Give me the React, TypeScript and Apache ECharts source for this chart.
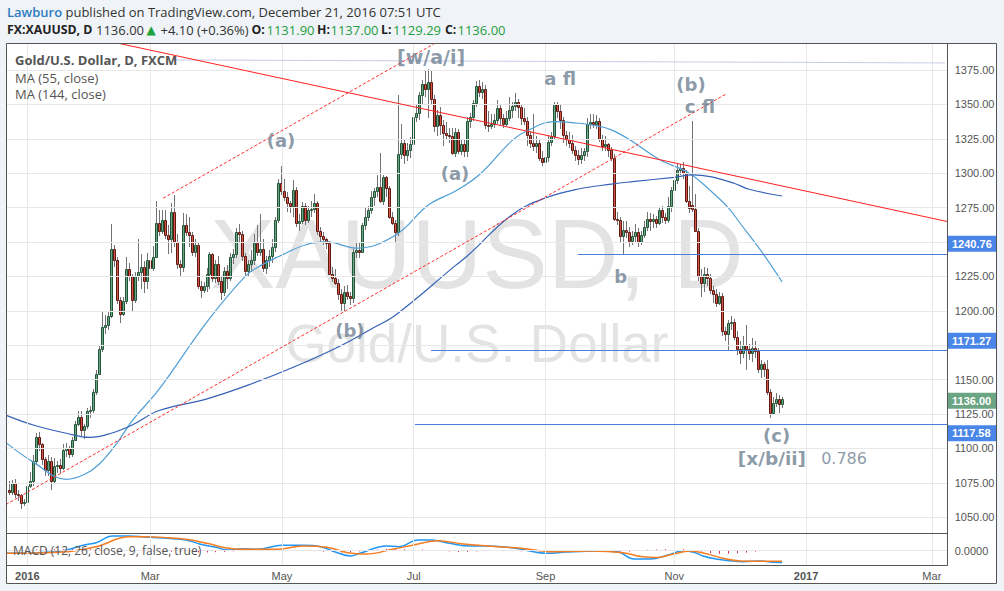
import React, { useEffect, useRef } from "react";
import * as echarts from "echarts";

// ---------------- data ----------------
// day index k: 0 = Mon Jan 4 2016, one step per weekday
const FIRST_K = -6;
// [open, high, low, close]
const dec15 = [
  [1070, 1076, 1066, 1068], [1068, 1077, 1066, 1075], [1075, 1078, 1064, 1067],
  [1067, 1070, 1062, 1066], [1066, 1067, 1056, 1060], [1060, 1063, 1058, 1061],
];
const jan16 = [
  [1061, 1082, 1060, 1073], [1073, 1083, 1071, 1076], [1076, 1095, 1073, 1091], [1091, 1111, 1088, 1108],
  [1108, 1112, 1098, 1103], [1103, 1104, 1088, 1092], [1092, 1094, 1080, 1084], [1084, 1095, 1080, 1091],
  [1091, 1094, 1070, 1076], [1076, 1093, 1074, 1087], [1087, 1091, 1082, 1088], [1088, 1092, 1082, 1086],
  [1086, 1103, 1084, 1099], [1099, 1104, 1094, 1100], [1100, 1102, 1093, 1096], [1096, 1108, 1094, 1106],
  [1106, 1120, 1105, 1118], [1118, 1127, 1116, 1123], [1123, 1127, 1109, 1113], [1113, 1118, 1107, 1116],
];
const feb16 = [
  [1116, 1129, 1114, 1127], [1127, 1131, 1122, 1128], [1128, 1143, 1126, 1141], [1141, 1157, 1139, 1154],
  [1154, 1175, 1153, 1172], [1172, 1200, 1170, 1188], [1188, 1197, 1183, 1190], [1190, 1200, 1186, 1196],
  [1196, 1263, 1195, 1245], [1245, 1248, 1232, 1237], [1237, 1239, 1205, 1208], [1208, 1210, 1191, 1198],
  [1198, 1210, 1196, 1207], [1207, 1239, 1205, 1230], [1230, 1235, 1222, 1225], [1225, 1227, 1199, 1208],
  [1208, 1228, 1206, 1225], [1225, 1252, 1222, 1228], [1228, 1241, 1216, 1232], [1232, 1236, 1213, 1222],
  [1222, 1242, 1216, 1237],
];
const mar16 = [
  [1237, 1241, 1224, 1231], [1231, 1247, 1229, 1239], [1239, 1280, 1238, 1264], [1264, 1273, 1254, 1258],
  [1258, 1273, 1256, 1266], [1266, 1273, 1252, 1255], [1255, 1262, 1241, 1252], [1252, 1278, 1242, 1272],
  [1272, 1284, 1246, 1250], [1250, 1256, 1230, 1234], [1234, 1237, 1225, 1232], [1232, 1271, 1228, 1262],
  [1262, 1270, 1254, 1257], [1257, 1268, 1246, 1255], [1255, 1257, 1240, 1243], [1243, 1252, 1239, 1248],
  [1248, 1250, 1216, 1218], [1218, 1222, 1209, 1215], [1215, 1221, 1213, 1218], [1218, 1231, 1214, 1227],
  [1227, 1243, 1216, 1241], [1241, 1242, 1221, 1224], [1224, 1237, 1220, 1234],
];
const apr16 = [
  [1234, 1240, 1219, 1222], [1222, 1225, 1208, 1214], [1214, 1232, 1211, 1229], [1229, 1233, 1216, 1224],
  [1224, 1242, 1222, 1239], [1239, 1245, 1234, 1241], [1241, 1260, 1238, 1257], [1257, 1263, 1250, 1256],
  [1256, 1258, 1236, 1240], [1240, 1242, 1225, 1229], [1229, 1237, 1225, 1234], [1234, 1244, 1228, 1237],
  [1237, 1256, 1233, 1249], [1249, 1262, 1240, 1243], [1243, 1270, 1240, 1245], [1245, 1252, 1228, 1231],
  [1231, 1240, 1227, 1237], [1237, 1244, 1232, 1240], [1240, 1252, 1235, 1246], [1246, 1268, 1243, 1266],
  [1266, 1296, 1264, 1293],
];
const may16 = [
  [1293, 1305, 1284, 1287], [1287, 1296, 1280, 1283], [1283, 1286, 1272, 1278], [1278, 1280, 1271, 1276],
  [1276, 1295, 1268, 1288], [1288, 1290, 1261, 1264], [1264, 1270, 1258, 1265], [1265, 1279, 1263, 1276],
  [1276, 1278, 1262, 1266], [1266, 1276, 1264, 1273], [1273, 1280, 1268, 1274], [1274, 1285, 1271, 1278],
  [1278, 1280, 1255, 1258], [1258, 1261, 1250, 1254], [1254, 1257, 1248, 1252], [1252, 1253, 1245, 1249],
  [1249, 1251, 1226, 1227], [1227, 1232, 1221, 1224], [1224, 1230, 1219, 1220], [1220, 1223, 1208, 1212],
  [1212, 1216, 1200, 1206], [1206, 1218, 1199, 1214],
];
const jun16 = [
  [1214, 1219, 1208, 1211], [1211, 1214, 1204, 1209], [1209, 1245, 1206, 1243], [1243, 1250, 1238, 1244],
  [1244, 1249, 1238, 1243], [1243, 1264, 1242, 1262], [1262, 1275, 1259, 1268], [1268, 1276, 1265, 1273],
  [1273, 1287, 1270, 1283], [1283, 1289, 1276, 1287], [1287, 1299, 1283, 1290], [1290, 1315, 1278, 1280],
  [1280, 1299, 1277, 1297], [1297, 1298, 1283, 1289], [1289, 1291, 1267, 1268], [1268, 1272, 1262, 1264],
  [1264, 1266, 1250, 1257], [1257, 1357, 1254, 1314], [1314, 1336, 1310, 1322], [1322, 1324, 1307, 1313],
  [1313, 1322, 1309, 1317], [1317, 1326, 1311, 1321],
];
const jul16 = [
  [1321, 1345, 1318, 1341], [1341, 1350, 1337, 1344], [1344, 1359, 1339, 1357], [1357, 1368, 1350, 1365],
  [1365, 1375, 1355, 1361], [1361, 1376, 1340, 1366], [1366, 1375, 1350, 1354], [1354, 1357, 1330, 1334],
  [1334, 1346, 1327, 1342], [1342, 1348, 1328, 1335], [1335, 1339, 1320, 1329], [1329, 1337, 1324, 1328],
  [1328, 1333, 1322, 1327], [1327, 1333, 1313, 1315], [1315, 1333, 1312, 1330], [1330, 1332, 1314, 1316],
  [1316, 1324, 1313, 1321], [1321, 1324, 1312, 1316], [1316, 1341, 1312, 1338], [1338, 1344, 1333, 1341],
  [1341, 1353, 1338, 1351],
];
const aug16 = [
  [1351, 1367, 1348, 1363], [1363, 1368, 1355, 1359], [1359, 1366, 1354, 1361], [1361, 1364, 1332, 1335],
  [1335, 1345, 1330, 1334], [1334, 1343, 1332, 1336], [1336, 1343, 1333, 1339], [1339, 1353, 1336, 1347],
  [1347, 1350, 1335, 1340], [1340, 1343, 1333, 1336], [1336, 1345, 1334, 1340], [1340, 1355, 1338, 1346],
  [1346, 1352, 1340, 1349], [1349, 1358, 1345, 1352], [1352, 1354, 1340, 1348], [1348, 1350, 1335, 1340],
  [1340, 1347, 1335, 1338], [1338, 1341, 1320, 1328], [1328, 1331, 1318, 1322], [1322, 1343, 1316, 1320],
  [1320, 1327, 1315, 1322], [1322, 1324, 1309, 1311], [1311, 1316, 1305, 1308],
];
const sep16 = [
  [1308, 1320, 1303, 1312], [1312, 1328, 1308, 1323], [1323, 1330, 1320, 1327], [1327, 1352, 1325, 1350],
  [1350, 1352, 1340, 1345], [1345, 1350, 1332, 1339], [1339, 1341, 1322, 1328], [1328, 1331, 1320, 1325],
  [1325, 1330, 1318, 1322], [1322, 1328, 1314, 1317], [1317, 1320, 1309, 1313], [1313, 1317, 1306, 1310],
  [1310, 1318, 1307, 1313], [1313, 1318, 1309, 1316], [1316, 1340, 1312, 1336], [1336, 1343, 1332, 1337],
  [1337, 1343, 1333, 1336], [1336, 1342, 1332, 1338], [1338, 1340, 1323, 1325], [1325, 1328, 1316, 1320],
  [1320, 1327, 1316, 1321], [1321, 1322, 1312, 1317],
];
const oct16 = [
  [1317, 1319, 1309, 1311], [1311, 1314, 1265, 1267], [1267, 1272, 1262, 1266], [1266, 1268, 1250, 1254],
  [1254, 1265, 1241, 1259], [1259, 1265, 1253, 1257], [1257, 1261, 1246, 1251], [1251, 1258, 1248, 1254],
  [1254, 1263, 1250, 1257], [1257, 1260, 1246, 1250], [1250, 1258, 1248, 1255], [1255, 1265, 1253, 1261],
  [1261, 1272, 1258, 1267], [1267, 1271, 1258, 1265], [1265, 1270, 1260, 1267], [1267, 1269, 1260, 1264],
  [1264, 1275, 1262, 1273], [1273, 1276, 1264, 1268], [1268, 1271, 1263, 1266], [1266, 1283, 1264, 1276],
  [1276, 1290, 1272, 1288],
];
const nov16 = [
  [1288, 1297, 1284, 1295], [1295, 1307, 1292, 1302], [1302, 1307, 1299, 1304], [1304, 1308, 1296, 1300],
  [1300, 1302, 1278, 1280], [1280, 1291, 1271, 1275], [1277, 1338, 1272, 1274], [1274, 1285, 1257, 1258],
  [1258, 1260, 1222, 1225], [1225, 1230, 1210, 1220], [1220, 1232, 1214, 1227], [1227, 1231, 1218, 1224],
  [1224, 1227, 1212, 1215], [1215, 1218, 1206, 1212], [1212, 1216, 1203, 1206], [1206, 1214, 1204, 1211],
  [1211, 1213, 1182, 1185], [1185, 1188, 1178, 1183], [1183, 1193, 1171, 1191], [1191, 1196, 1186, 1192],
  [1192, 1194, 1179, 1181], [1181, 1185, 1168, 1172],
];
const dec16 = [
  [1172, 1178, 1161, 1169], [1169, 1182, 1166, 1175], [1175, 1190, 1157, 1172], [1172, 1176, 1164, 1169],
  [1169, 1180, 1163, 1173], [1173, 1178, 1166, 1171], [1171, 1173, 1155, 1158], [1158, 1164, 1151, 1161],
  [1161, 1163, 1152, 1158], [1158, 1164, 1139, 1141], [1141, 1143, 1122, 1126], [1126, 1137, 1124, 1133],
  [1133, 1140, 1130, 1136], [1136, 1139, 1126, 1132], [1131.9, 1137, 1129.29, 1136],
];
const monthBlocks = [dec15, jan16, feb16, mar16, apr16, may16, jun16, jul16, aug16, sep16, oct16, nov16, dec16];

// moving averages [k, value]
const ma55 = [
  [-7, 1104], [2, 1090], [13, 1077.5], [19, 1081], [24, 1088.5], [30, 1104], [35, 1120], [44, 1143],
  [60, 1192], [73, 1225.5], [78, 1233], [84, 1239.5], [93, 1248], [100, 1250], [110, 1245.5], [123, 1255],
  [134, 1277], [143, 1287], [151, 1299], [162, 1324], [167, 1331], [176, 1337.5], [182, 1336.7], [190, 1334.5],
  [195, 1331.5], [201, 1324.5], [211, 1310], [221, 1300], [228, 1287.5], [234, 1275], [238, 1263.6],
  [245, 1243.5], [252, 1221],
];
const ma144 = [
  [-7, 1124], [2, 1117], [13, 1111], [21, 1108], [28, 1111], [35, 1117], [44, 1127.5], [60, 1136],
  [75, 1147], [90, 1160], [105, 1175], [115, 1187], [123, 1197], [143, 1233], [147, 1240], [162, 1270],
  [173, 1282], [184, 1288.5], [195, 1292], [202, 1293.8], [216, 1297], [222, 1298.7], [228, 1297.5],
  [236, 1292.7], [241, 1288.3], [252, 1283.4],
];

// MACD pane [k, value]
const macdLine = [
  [-7, -5], [4, -4], [12, 0], [19, 11.6], [23, 16.3], [28.5, 30], [34, 30], [41, 27.3], [47, 25.3],
  [53, 21.8], [57.5, 13.7], [63, 6.9], [67, 1.4], [71.5, 4], [77, 2.8], [85, 11], [92, 11], [98, 8.2],
  [102.6, -2], [108, -10.8], [111, -5.3], [120, 9.6], [124, 8.2], [130.5, 21.8], [135, 21.8], [141, 15],
  [148, 9.6], [154, 9.6], [163, 4.9], [173.5, -5.3], [180, -2.7], [190.5, -0.6], [197, -2], [202.5, -17],
  [208, -17], [214, -8.8], [219, 0], [223, -4], [225.6, -10.8], [230, -17], [234.6, -20.4], [239, -22.4],
  [244.6, -21], [249, -23.7], [252, -24],
];
const signalLine = [
  [-7, -5.3], [12, -2.7], [23, 8.2], [34, 28.6], [40, 28.6], [47, 26.5], [53, 23.2], [60, 15], [66, 6.1],
  [72.5, 2.8], [83, 2.8], [92, 9.6], [100, 6.9], [107, -4], [113, -6.7], [122, 2.8], [130.5, 13.7],
  [137, 20.4], [145.6, 13.7], [154, 9.6], [165, 4.9], [175.7, -2], [188.5, -0.6], [199, -4], [205, -12],
  [210, -14], [215, -8], [221.3, -0.6], [227, -6.7], [232.3, -15.5], [238, -21], [249, -21.6], [252, -21.6],
];
const macdHist = [
  [-6, 1], [-3, 1.5], [0, 2], [3, 2.5], [6, 3], [9, 3], [12, 3], [15, 3.5], [18, 3.5], [21, 3], [24, 2.5],
  [27, 2], [30, 1], [33, 0.5], [36, -0.5], [39, -1], [42, -1.5], [45, -2], [48, -2.5], [51, -3], [54, -3],
  [57, -3.5], [60, -3.5], [63, -3], [66, -2.5], [69, -1.5], [72, -0.5], [75, 0.5], [78, 1], [81, 1.5],
  [84, 2], [87, 1.5], [90, 1], [93, 0.5], [96, -1], [99, -2], [102, -3], [105, -3.5], [108, -3], [111, -1.5],
  [114, 1], [117, 2.5], [120, 3.5], [123, 3.5], [126, 3], [129, 3], [132, 2.5], [135, 1.5], [138, -0.5],
  [141, -1.5], [144, -2.5], [147, -2.5], [150, -1.5], [153, -1], [156, -0.5], [159, -1], [162, -1],
  [165, -1.5], [168, -1.5], [171, -2], [174, -1.5], [177, -0.5], [180, 0.5], [183, 0.5], [186, 0.5],
  [189, 0], [192, -0.5], [195, -1], [198, -2], [201, -2], [204, 1], [207, 2], [210, 2.5], [213, 3],
  [216, 3.5], [219, 3], [222, 1.5], [225, -2], [228, -5], [231, -6], [234, -6], [237, -5], [240, -4],
  [243, -2], [246, -0.5], [249, -0.5], [252, -0.5],
];

// axes
const timeTickK = [0, 41, 85, 129, 173, 216, 260, 302];
const timeTickLabels = ["2016", "Mar", "May", "Jul", "Sep", "Nov", "2017", "Mar"];
const priceTicks = [1050, 1075, 1100, 1125, 1150, 1175, 1200, 1225, 1250, 1275, 1300, 1325, 1350, 1375];
// labels covered by the level tags in the picture are not shown
const priceLabelValues = [1050, 1075, 1100, 1125, 1150, 1200, 1225, 1275, 1300, 1325, 1350, 1375];

// drawings
const levelPrices = [1240.76, 1171.27, 1117.58];
const levelStartK = [183.8, 134.8, 129.4];
const resistanceLine = [[30.4, 1394.4], [307.3, 1264.8]];
const channelLower = [[-7.11, 1059.2], [233.6, 1357.9]];
const channelUpper = [[45.4, 1281.8], [136.1, 1394.4]];
const faintLine = [[48.3, 1382.3], [306.4, 1380.1]];

const waveLabels = [
  { text: "[w/a/i]", k: 134.8, p: 1384.4, size: 19, bold: true },
  { text: "(a)", k: 84.7, p: 1324.1, size: 18, bold: true },
  { text: "(a)", k: 142.8, p: 1299.4, size: 18, bold: true },
  { text: "a fl", k: 177.9, p: 1368.5, size: 18, bold: true },
  { text: "(b)", k: 221.6, p: 1364.8, size: 18, bold: true },
  { text: "c fl", k: 224.6, p: 1348.1, size: 18, bold: true },
  { text: "(b)", k: 107.7, p: 1186.0, size: 18, bold: true },
  { text: "b", k: 198.1, p: 1224.6, size: 18, bold: true },
  { text: "(c)", k: 250.2, p: 1109.7, size: 18, bold: true },
  { text: "[x/b/ii]", k: 248.6, p: 1093.0, size: 18.5, bold: true },
  { text: "0.786", k: 272.7, p: 1092.3, size: 16, bold: false },
];

const priceTags = [
  { value: 1240.76, shift: -11, color: "#4a86e8" },
  { value: 1171.27, shift: -9.5, color: "#4a86e8" },
  { value: 1136.0, shift: 2, color: "#6ba583" },
  { value: 1117.58, shift: 9, color: "#4a86e8" },
];

// ---------------- layout ----------------
const X_MIN = -7.11;
const X_MAX = 307.3;
const Y_MIN = 1038.5;
const Y_MAX = 1394.6;
const M_MIN = -29.2;
const M_MAX = 36.1;
const PL = 6;
const PW = 941.7;
const SANS = '"Open Sans", "DejaVu Sans", sans-serif';
const AX_FONT = '"Liberation Sans", Arial, sans-serif';
const LABEL_COLOR = "#6e7f91";
const GRID_COLOR = "#e8e8e8";

function buildCandles() {
  const out: number[][] = [];
  let k = FIRST_K;
  monthBlocks.forEach((block) =>
    block.forEach((r) => {
      out.push([k, r[0], r[1], r[2], r[3]]);
      k += 1;
    })
  );
  return out;
}

function lineSeries(name: string, xi: number, yi: number, data: any[], style: any, z: number) {
  return {
    name,
    type: "line",
    xAxisIndex: xi,
    yAxisIndex: yi,
    data: [[X_MIN - 50, -9999]],
    showSymbol: false,
    lineStyle: { opacity: 0 },
    silent: true,
    z,
    markLine: {
      silent: true,
      symbol: ["none", "none"],
      label: { show: false },
      emphasis: { disabled: true },
      lineStyle: style,
      data,
      animation: false,
    },
  };
}

function txt(id: string, x: number, y: number, text: string, extra: any = {}, z = 20) {
  return {
    type: "text",
    id,
    x,
    y,
    z,
    silent: true,
    style: {
      text,
      fill: "#333",
      fontSize: 13,
      fontFamily: SANS,
      verticalAlign: "middle",
      align: "left",
      ...extra,
    },
  };
}

export default function App() {
  const ref = useRef<HTMLDivElement>(null);

  useEffect(() => {
    if (!ref.current) return;
    const chart = echarts.init(ref.current, undefined, { renderer: "svg" });
    const candles = buildCandles();

    const option: any = {
      animation: false,
      backgroundColor: "#f0f3f7",
      grid: [
        { left: PL, top: 43, width: PW, height: 490 },
        { left: PL, top: 533, width: PW, height: 32 },
      ],
      xAxis: [
        { type: "value", gridIndex: 0, min: X_MIN, max: X_MAX, show: false },
        {
          type: "value",
          gridIndex: 1,
          min: X_MIN,
          max: X_MAX,
          axisLine: { show: false },
          splitLine: { show: false },
          axisTick: { show: true, customValues: timeTickK, length: 3, lineStyle: { color: "#555" } },
          axisLabel: {
            customValues: timeTickK,
            color: "#555",
            fontSize: 11,
            fontFamily: AX_FONT,
            margin: 5,
            formatter: (v: number) => {
              const i = timeTickK.indexOf(Math.round(v));
              if (i < 0) return "";
              const t = timeTickLabels[i];
              return t.length === 4 ? `{b|${t}}` : t;
            },
            rich: { b: { fontWeight: "bold", color: "#555", fontSize: 11, fontFamily: AX_FONT } },
          },
        },
      ],
      yAxis: [
        {
          type: "value",
          gridIndex: 0,
          position: "right",
          min: Y_MIN,
          max: Y_MAX,
          axisLine: { show: false },
          splitLine: { show: false },
          axisTick: { show: true, customValues: priceTicks, length: 4, lineStyle: { color: "#555" } },
          axisLabel: {
            customValues: priceLabelValues,
            color: "#555",
            fontSize: 11,
            fontFamily: AX_FONT,
            margin: 7,
            formatter: (v: number) => v.toFixed(2),
          },
        },
        {
          type: "value",
          gridIndex: 1,
          position: "right",
          min: M_MIN,
          max: M_MAX,
          axisLine: { show: false },
          splitLine: { show: false },
          axisTick: { show: true, customValues: [0], length: 4, lineStyle: { color: "#555" } },
          axisLabel: {
            customValues: [0],
            color: "#555",
            fontSize: 11,
            fontFamily: AX_FONT,
            margin: 7,
            formatter: (v: number) => (Math.abs(v) < 1e-9 ? "0.0000" : ""),
          },
        },
      ],
      series: [
        lineSeries(
          "grid-main",
          0,
          0,
          [...priceTicks.map((p) => ({ yAxis: p })), ...timeTickK.map((k) => ({ xAxis: k }))],
          { color: GRID_COLOR, width: 1, type: "solid" },
          1
        ),
        lineSeries(
          "grid-macd",
          1,
          1,
          [{ yAxis: 0 }, ...timeTickK.map((k) => ({ xAxis: k }))],
          { color: GRID_COLOR, width: 1, type: "solid" },
          1
        ),
        {
          name: "XAUUSD",
          type: "custom",
          xAxisIndex: 0,
          yAxisIndex: 0,
          clip: true,
          z: 3,
          silent: true,
          encode: { x: 0, y: [1, 2, 3, 4] },
          data: candles,
          renderItem: (params: any, api: any) => {
            const k = api.value(0);
            const o = api.value(1);
            const h = api.value(2);
            const l = api.value(3);
            const c = api.value(4);
            const pO = api.coord([k, o]);
            const pC = api.coord([k, c]);
            const pH = api.coord([k, h]);
            const pL = api.coord([k, l]);
            const xi = Math.floor(pO[0]);
            const up = c >= o;
            const top = Math.round(Math.min(pO[1], pC[1]));
            const bot = Math.round(Math.max(pO[1], pC[1]));
            return {
              type: "group",
              children: [
                {
                  type: "line",
                  shape: { x1: xi + 0.5, y1: Math.round(pH[1]), x2: xi + 0.5, y2: Math.round(pL[1]) },
                  style: { stroke: "#737375", lineWidth: 1 },
                },
                {
                  type: "rect",
                  shape: { x: xi - 0.5, y: top + 0.5, width: 2, height: Math.max(bot - top, 0) },
                  style: {
                    fill: up ? "#6ba583" : "#d75442",
                    stroke: up ? "#225437" : "#5b1a13",
                    lineWidth: 1,
                  },
                },
              ],
            };
          },
        },
        {
          name: "MA (55, close)",
          type: "line",
          xAxisIndex: 0,
          yAxisIndex: 0,
          data: ma55,
          smooth: 0.4,
          showSymbol: false,
          silent: true,
          z: 4,
          lineStyle: { color: "#4f9fd6", width: 1.2 },
        },
        {
          name: "MA (144, close)",
          type: "line",
          xAxisIndex: 0,
          yAxisIndex: 0,
          data: ma144,
          smooth: 0.4,
          showSymbol: false,
          silent: true,
          z: 4,
          lineStyle: { color: "#3562b8", width: 1.2 },
        },
        lineSeries(
          "faint",
          0,
          0,
          [[{ coord: faintLine[0] }, { coord: faintLine[1] }]],
          { color: "#c6cde8", width: 1, type: "solid" },
          4
        ),
        lineSeries(
          "levels",
          0,
          0,
          levelPrices.map((p, i) => [{ coord: [levelStartK[i], p] }, { coord: [X_MAX, p] }]),
          { color: "#4a80dc", width: 1, type: "solid" },
          5
        ),
        lineSeries(
          "resistance",
          0,
          0,
          [[{ coord: resistanceLine[0] }, { coord: resistanceLine[1] }]],
          { color: "#ff1f1f", width: 1, type: "solid" },
          6
        ),
        lineSeries(
          "channel",
          0,
          0,
          [
            [{ coord: channelLower[0] }, { coord: channelLower[1] }],
            [{ coord: channelUpper[0] }, { coord: channelUpper[1] }],
          ],
          { color: "#ff2a2a", width: 1, type: [3, 2] },
          6
        ),
        {
          name: "waves",
          type: "scatter",
          xAxisIndex: 0,
          yAxisIndex: 0,
          symbol: "circle",
          symbolSize: 1,
          itemStyle: { color: "rgba(0,0,0,0)" },
          silent: true,
          z: 8,
          data: waveLabels.map((w) => ({
            name: w.text,
            value: [w.k, w.p],
            label: {
              show: true,
              position: "inside",
              formatter: w.text,
              color: LABEL_COLOR,
              fontFamily: '"DejaVu Sans", Verdana, sans-serif',
              fontWeight: w.bold ? "bold" : "normal",
              fontSize: w.size,
            },
          })),
        },
        {
          name: "MACD histogram",
          type: "custom",
          xAxisIndex: 1,
          yAxisIndex: 1,
          clip: true,
          z: 3,
          silent: true,
          encode: { x: 0, y: 1 },
          data: macdHist,
          renderItem: (params: any, api: any) => {
            const k = api.value(0);
            const v = api.value(1);
            const p0 = api.coord([k, 0]);
            const p1 = api.coord([k, v]);
            const xi = Math.floor(p0[0]) + 0.5;
            return {
              type: "line",
              shape: { x1: xi, y1: p0[1], x2: xi, y2: p1[1] },
              style: { stroke: "#e91e63", lineWidth: 1 },
            };
          },
        },
        {
          name: "MACD",
          type: "line",
          xAxisIndex: 1,
          yAxisIndex: 1,
          data: macdLine,
          smooth: 0.4,
          showSymbol: false,
          silent: true,
          z: 4,
          lineStyle: { color: "#2196f3", width: 1.5 },
        },
        {
          name: "Signal",
          type: "line",
          xAxisIndex: 1,
          yAxisIndex: 1,
          data: signalLine,
          smooth: 0.4,
          showSymbol: false,
          silent: true,
          z: 4,
          lineStyle: { color: "#f57c1f", width: 1.5 },
        },
      ],
    };

    const B = { fontWeight: "bold", fill: "#222", fontSize: 12.3 };
    const G = { fill: "#1e9e3e" };
    const staticGraphics: any[] = [
      { type: "rect", id: "plotbg", z: -10, silent: true, shape: { x: 6, y: 43, width: 991, height: 541 }, style: { fill: "#ffffff" } },
      {
        type: "text", id: "wm1", z: -5, silent: true, x: PL + PW / 2, y: 254,
        style: { text: "XAUUSD, D", fill: "#e3e3e3", fontSize: 98, fontFamily: AX_FONT, align: "center", verticalAlign: "middle" },
      },
      {
        type: "text", id: "wm2", z: -5, silent: true, x: PL + PW / 2, y: 343,
        style: { text: "Gold/U.S. Dollar", fill: "#e3e3e3", fontSize: 53, fontFamily: AX_FONT, align: "center", verticalAlign: "middle" },
      },
      // frame
      { type: "rect", id: "frame", z: 30, silent: true, shape: { x: 6.5, y: 43.5, width: 990, height: 540 }, style: { fill: "none", stroke: "#555", lineWidth: 1 } },
      { type: "line", id: "fr-v", z: 30, silent: true, shape: { x1: 947.5, y1: 43, x2: 947.5, y2: 565.5 }, style: { stroke: "#555", lineWidth: 1 } },
      { type: "line", id: "fr-h1", z: 30, silent: true, shape: { x1: 6, y1: 533.5, x2: 947.5, y2: 533.5 }, style: { stroke: "#555", lineWidth: 1 } },
      { type: "line", id: "fr-h2", z: 30, silent: true, shape: { x1: 6, y1: 565.5, x2: 947.5, y2: 565.5 }, style: { stroke: "#555", lineWidth: 1 } },
      // header
      txt("h1", 7, 12, "{u|Lawburo} published on TradingView.com, December 21, 2016 07:51 UTC", {
        fill: "#333",
        rich: { u: { fill: "#2d7cc1", color: "#2d7cc1", fontWeight: 600, fontSize: 13, fontFamily: SANS } },
      }),
      txt("h2a", 7, 29.5, "FX:XAUUSD, D", B),
      txt("h2b", 96, 29.5, "1136.00", { fill: "#333" }),
      txt("h2c", 146.5, 29.5, "\u25B2", { fill: "#1ca33b", fontSize: 12, fontFamily: '"DejaVu Sans", sans-serif' }),
      txt("h2d", 160.5, 29.5, "+4.10 (+0.36%)", { fill: "#333" }),
      txt("h2e", 251.5, 29.5, "O:", B),
      txt("h2f", 266.5, 29.5, "1131.90", G),
      txt("h2g", 317, 29.5, "H:", B),
      txt("h2h", 330.5, 29.5, "1137.00", G),
      txt("h2i", 381, 29.5, "L:", B),
      txt("h2j", 393, 29.5, "1129.29", G),
      txt("h2k", 445, 29.5, "C:", B),
      txt("h2l", 457.5, 29.5, "1136.00", G),
      // legend
      txt("lg1", 15, 60, "Gold/U.S. Dollar, D, FXCM", { fontWeight: "bold", fill: "#555" }),
      txt("lg2", 15, 78, "MA (55, close)", { fill: "#555" }),
      txt("lg3", 15, 94, "MA (144, close)", { fill: "#555" }),
      txt("lg4", 13, 550.5, "MACD (12, 26, close, 9, false, true)", { fill: "#555", fontSize: 12 }),
    ];

    option.graphic = staticGraphics;
    chart.setOption(option);

    const tagGraphics: any[] = [];
    priceTags.forEach((t, i) => {
      const py = chart.convertToPixel({ yAxisIndex: 0 }, t.value) as number;
      const cy = py + t.shift;
      tagGraphics.push({
        type: "rect", id: `tag${i}`, z: 25, silent: true,
        shape: { x: 947.5, y: cy - 8, width: 49.5, height: 16 },
        style: { fill: t.color },
      });
      tagGraphics.push({
        type: "text", id: `tagt${i}`, z: 26, silent: true, x: 952, y: cy,
        style: {
          text: t.value.toFixed(2), fill: "#ffffff", fontSize: 11, fontWeight: "bold",
          fontFamily: AX_FONT, verticalAlign: "middle", align: "left",
        },
      });
    });
    chart.setOption({ graphic: [...staticGraphics, ...tagGraphics] });

    return () => chart.dispose();
  }, []);

  return <div ref={ref} style={{ position: "fixed", left: 0, top: 0, width: 1004, height: 591 }} />;
}
